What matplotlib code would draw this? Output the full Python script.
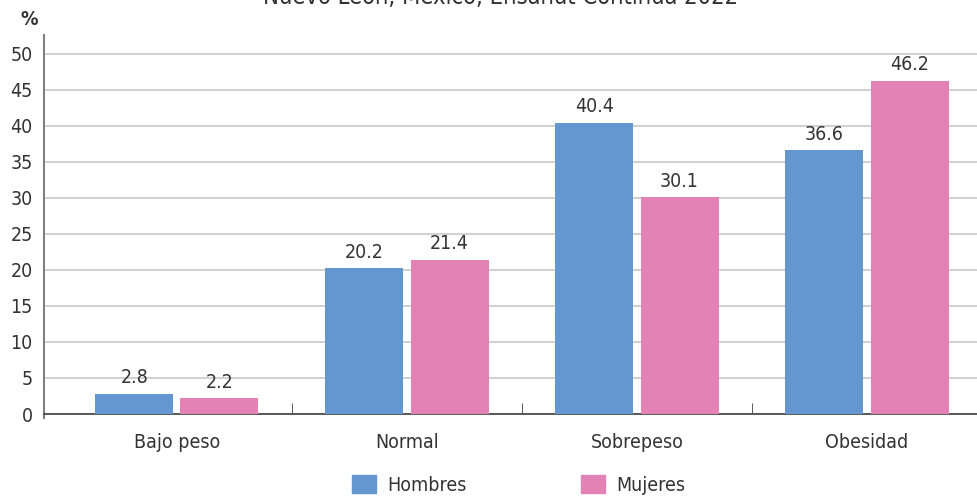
import matplotlib.pyplot as plt
import numpy as np
from matplotlib.patches import Patch

categories = ['Bajo peso', 'Normal', 'Sobrepeso', 'Obesidad']
hombres = [2.8, 20.2, 40.4, 36.6]
mujeres = [2.2, 21.4, 30.1, 46.2]
series_names = ['Hombres', 'Mujeres']
colors = ['#6497D0', '#E382B4']

plt.rcParams['font.family'] = ['DejaVu Sans']
plt.rcParams['font.stretch'] = 'condensed'
txt = '#333333'

fig = plt.figure(figsize=(9.77, 4.97), dpi=100)
ax = fig.add_axes([0.045, 0.167, 0.955, 0.763])

x = np.arange(len(categories))
w = 0.339
off = 0.185
b1 = ax.bar(x - off, hombres, w, color=colors[0], zorder=3)
b2 = ax.bar(x + off, mujeres, w, color=colors[1], zorder=3)
for bars in (b1, b2):
    for r in bars:
        ax.text(r.get_x() + r.get_width() / 2, r.get_height() + 0.9, f'{r.get_height():.1f}',
                ha='center', va='bottom', fontsize=14, color=txt)

ax.set_xlim(-0.578, 3.478)
ax.set_ylim(0, 52.6)
ax.set_yticks(range(0, 51, 5))
ax.set_xticks(x)
ax.set_xticklabels(categories)
ax.set_xticks([0.5, 1.5, 2.5], minor=True)
ax.tick_params(axis='x', which='major', length=0, pad=14, labelsize=14, labelcolor=txt)
ax.tick_params(axis='x', which='minor', length=8, direction='in', color='#404040')
ax.tick_params(axis='y', length=0, pad=8, labelsize=14, labelcolor=txt)
ax.grid(axis='y', color='#c8c8c8', linewidth=1.2, zorder=0)
for s in ['top', 'right']:
    ax.spines[s].set_visible(False)
ax.spines['left'].set_color('#808080')
ax.spines['left'].set_linewidth(1.5)
ax.spines['left'].set_bounds(-0.6, 52.6)
ax.spines['bottom'].set_color('#404040')
ax.spines['bottom'].set_linewidth(1.2)

fig.text(0.021, 0.96, '%', fontsize=14, fontweight='bold', color=txt, ha='left', va='center')
fig.text(0.512, 0.992, 'Nuevo León, México, Ensanut Continua 2022', fontsize=17,
         color=txt, ha='center', va='baseline')

handles = [Patch(color=c) for c in colors]
fig.legend(handles, series_names, loc='center', bbox_to_anchor=(0.531, 0.025), ncol=2,
           frameon=False, fontsize=14, labelcolor=txt, handlelength=1.24, handleheight=1.1,
           columnspacing=5.9, handletextpad=0.57, borderpad=0.2)

fig.savefig('out.png', dpi=100)
